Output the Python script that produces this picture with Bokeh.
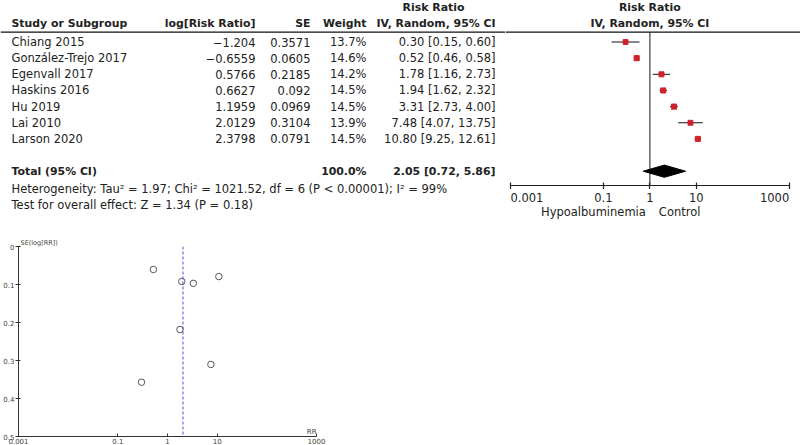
from bokeh.plotting import figure
from bokeh.layouts import row, column
from bokeh.models import Range1d, Span, FixedTicker, CustomJSTickFormatter
from bokeh.core.properties import value
from bokeh.embed import file_html
from bokeh.resources import INLINE

# ---------------- data ----------------
studies = ["Chiang 2015", "González-Trejo 2017", "Egenvall 2017", "Haskins 2016",
           "Hu 2019", "Lai 2010", "Larson 2020"]
log_rr = [-1.204, -0.6559, 0.5766, 0.6627, 1.1959, 2.0129, 2.3798]
se = [0.3571, 0.0605, 0.2185, 0.092, 0.0969, 0.3104, 0.0791]
weight = [13.7, 14.6, 14.2, 14.5, 14.5, 13.9, 14.5]
rr = [0.30, 0.52, 1.78, 1.94, 3.31, 7.48, 10.80]
ci_lo = [0.15, 0.46, 1.16, 1.62, 2.73, 4.07, 9.25]
ci_hi = [0.60, 0.58, 2.73, 2.32, 4.00, 13.75, 12.61]
total_weight = 100.0
total_rr, total_lo, total_hi = 2.05, 0.72, 5.86
null_effect = 1
heterogeneity = "Heterogeneity: Tau\u00b2 = 1.97; Chi\u00b2 = 1021.52, df = 6 (P < 0.00001); I\u00b2 = 99%"
overall_effect = "Test for overall effect: Z = 1.34 (P = 0.18)"
col_headers = ["Study or Subgroup", "log[Risk Ratio]", "SE", "Weight", "IV, Random, 95% CI"]
group_header = "Risk Ratio"
total_label = "Total (95% CI)"
forest_ticks = [0.001, 0.1, 1, 10, 1000]
left_label, right_label = "Hypoalbuminemia", "Control"
funnel_x_ticks = [0.001, 0.1, 1, 10, 1000]
funnel_y_ticks = [0, 0.1, 0.2, 0.3, 0.4, 0.5]
funnel_y_label = "SE(log[RR])"
funnel_x_label = "RR"

# ---------------- style ----------------
FONT = "DejaVu Sans"
TXT = "#222222"
NORM = "11.5px"
BOLD = "10.9px"
RED = "#d0202a"

UNIT = 16.15          # px per table row
n = len(studies)
row_y = list(range(n))
total_y = n + 1
het_y, test_y = n + 2.1, n + 3.1
hdr1_y, hdr2_y, line_y = -2.16, -1.17, -0.607

W1, W2, H = 505, 295, 228
Y_TOP = -2.57


def fig(**kw):
    base = dict(output_backend="svg", toolbar_location=None, outline_line_color=None,
                min_border_left=0, min_border_right=0, min_border_top=0, min_border_bottom=0)
    base.update(kw)
    p = figure(**base)
    p.grid.visible = False
    return p


def txt(p, x, y, text, align="left", bold=False, size=None, color=TXT, baseline="middle", **kw):
    p.text(x=x, y=y, text=text, text_font=value(FONT),
           text_font_size=size or (BOLD if bold else NORM),
           text_font_style="bold" if bold else "normal",
           text_align=align, text_baseline=baseline, text_color=color, **kw)


# ---------------- table ----------------
t = fig(width=W1, height=H, x_range=Range1d(0, W1), y_range=Range1d(Y_TOP + H / UNIT, Y_TOP),
        x_axis_location=None, y_axis_location=None)
cx = {"study": 11, "lrr": 255, "se": 310, "w": 366, "ci": 495, "grp": 433}

txt(t, [cx["grp"]], [hdr1_y], [group_header], align="center", bold=True)
txt(t, [cx["study"]], [hdr2_y], [col_headers[0]], bold=True)
txt(t, [cx["lrr"], cx["se"], cx["w"], cx["ci"]], [hdr2_y] * 4, col_headers[1:], align="right", bold=True)
t.add_layout(Span(location=line_y, dimension="width", line_color="#111111", line_width=1.2))

txt(t, [cx["study"]] * n, row_y, studies)
txt(t, [cx["lrr"]] * n, row_y, [str(v).replace("-", "\u2212") for v in log_rr], align="right")
txt(t, [cx["se"]] * n, row_y, [str(v) for v in se], align="right")
txt(t, [cx["w"]] * n, row_y, [f"{w:.1f}%" for w in weight], align="right")
txt(t, [cx["ci"]] * n, row_y, [f"{a:.2f} [{b:.2f}, {c:.2f}]" for a, b, c in zip(rr, ci_lo, ci_hi)], align="right")

txt(t, [cx["study"]], [total_y], [total_label], bold=True)
txt(t, [cx["w"]], [total_y], [f"{total_weight:.1f}%"], align="right", bold=True)
txt(t, [cx["ci"]], [total_y], [f"{total_rr:.2f} [{total_lo:.2f}, {total_hi:.2f}]"], align="right", bold=True)
txt(t, [cx["study"]], [het_y], [heterogeneity])
txt(t, [cx["study"]], [test_y], [overall_effect])

# ---------------- forest ----------------
xr = Range1d(10 ** -3.1076, 10 ** 3.243)
FRAME_H = 185
f_bottom = Y_TOP + FRAME_H / UNIT
f = fig(frame_width=W2, frame_height=FRAME_H, x_axis_type="log", x_range=xr,
        y_range=Range1d(f_bottom, Y_TOP), y_axis_location=None, min_border_bottom=4)
f.add_layout(Span(location=line_y, dimension="width", line_color="#111111", line_width=1.2))
txt(f, [null_effect], [hdr1_y], [group_header], align="center", bold=True)
txt(f, [null_effect], [hdr2_y], [col_headers[-1]], align="center", bold=True)
f.segment(x0=[null_effect], y0=[line_y], x1=[null_effect], y1=[f_bottom],
          line_color="#6e6e6e", line_width=1.6)
f.segment(x0=ci_lo, y0=row_y, x1=ci_hi, y1=row_y, line_color="#111111", line_width=1)
f.scatter(x=rr, y=row_y, marker="square", size=[w * 0.35 for w in weight],
          fill_color=RED, line_color=RED)
f.patch(x=[total_lo, total_rr, total_hi, total_rr],
        y=[total_y, total_y - 0.38, total_y, total_y + 0.38], fill_color="black", line_color="black")
ax = f.xaxis[0]
ax.ticker = FixedTicker(ticks=forest_ticks, minor_ticks=[])
ax.bounds = (forest_ticks[0], forest_ticks[-1])
ax.formatter = CustomJSTickFormatter(code="return '';")
ax.major_label_text_font_size = "0px"
ax.major_label_standoff = 0
ax.major_tick_in = 3
ax.major_tick_out = 4
ax.axis_line_color = "#222222"
ax.major_tick_line_color = "#222222"
ax.axis_line_width = 1.2
ax.major_tick_line_width = 1.2

LAB_H = H - FRAME_H - 4
lab = fig(frame_width=W2, frame_height=LAB_H, x_axis_type="log", x_range=xr,
          y_range=Range1d(LAB_H, 0), x_axis_location=None, y_axis_location=None)
tick_txt = [str(v) for v in forest_ticks]
txt(lab, [forest_ticks[0]], [8], [tick_txt[0]], align="left")
txt(lab, forest_ticks[1:-1], [8] * (len(forest_ticks) - 2), tick_txt[1:-1], align="center")
txt(lab, [forest_ticks[-1]], [8], [tick_txt[-1]], align="right")
txt(lab, [null_effect], [22.5], [left_label], align="right", x_offset=-4)
txt(lab, [null_effect], [22.5], [right_label], align="left", x_offset=9)

# ---------------- funnel ----------------
g = fig(frame_width=298, frame_height=190, x_axis_type="log", x_range=Range1d(0.001, 1000),
        y_range=Range1d(funnel_y_ticks[-1], funnel_y_ticks[0]),
        min_border_left=18, min_border_right=10, min_border_top=18, min_border_bottom=8)
g.title.text = funnel_y_label
g.title.text_font = FONT
g.title.text_font_size = "6.5px"
g.title.text_font_style = "normal"
g.title.text_color = "#444444"
g.title.align = "left"
g.title.offset = 2
g.title.standoff = 0
g.add_layout(Span(location=total_rr, dimension="height", line_color="#4a4ae8",
                  line_dash="3 2", line_width=1))
g.scatter(x=rr, y=se, marker="circle", size=6.5, fill_color=None, line_color="#555555", line_width=1)
txt(g, [funnel_x_ticks[-1]], [funnel_y_ticks[-1]], [funnel_x_label], align="right",
    size="7px", color="#444444", baseline="bottom", y_offset=-1)
fmt = CustomJSTickFormatter(code="return String(parseFloat(tick.toPrecision(6)));")
for a, ticks in ((g.xaxis[0], funnel_x_ticks), (g.yaxis[0], funnel_y_ticks)):
    a.ticker = FixedTicker(ticks=ticks, minor_ticks=[])
    a.formatter = fmt
    a.major_label_text_font = FONT
    a.major_label_text_font_size = "7px"
    a.major_label_text_color = "#444444"
    a.axis_line_color = "#333333"
    a.major_tick_line_color = "#333333"
    a.major_label_standoff = 1
g.xaxis.major_tick_in = 3
g.xaxis.major_tick_out = 0
g.yaxis.major_tick_in = 2
g.yaxis.major_tick_out = 3

layout = column(row(t, column(f, lab)), g)
open("out.html", "w").write(file_html(layout, INLINE))
